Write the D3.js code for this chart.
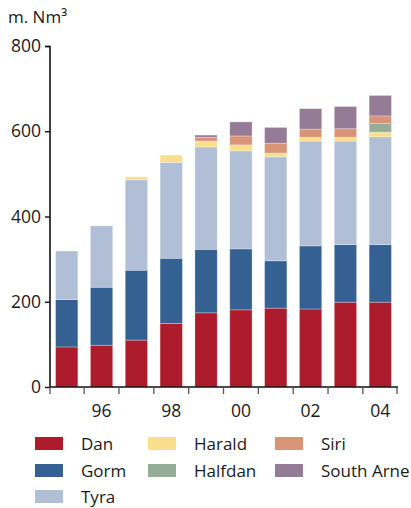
<!DOCTYPE html>
<html><head><meta charset="utf-8">
<script src="https://cdn.jsdelivr.net/npm/d3@7"></script>
<style>body{margin:0;background:#fff;}svg{display:block;}</style>
</head><body>
<svg id="c" width="411" height="508"></svg>
<script>
const years = ["95","96","97","98","99","00","01","02","03","04"];
const seriesNames = ["Dan","Gorm","Tyra","Harald","Halfdan","Siri","South Arne"];
const dan     = [94, 98, 110, 149, 174, 181, 185, 183, 199, 199];
const gorm    = [111, 136, 164, 153, 149, 143, 111, 148, 135, 135];
const tyra    = [114, 144, 212, 225, 240, 230, 244, 246, 243, 253];
const harald  = [0, 0, 7, 17, 14, 14, 9, 9, 9, 11];
const halfdan = [0, 0, 0, 0, 0, 0, 0, 0, 0, 20];
const siri    = [0, 0, 0, 0, 9, 21, 23, 19, 20, 18];
const southArne = [0, 0, 0, 0, 5, 33, 37, 48, 52, 48];
const colors = ["#ad1c2c","#356092","#b0bfd6","#f9de8c","#93ad97","#d99376","#947b96"];
const yTicks = [0, 200, 400, 600, 800];
const xTickLabels = ["96","98","00","02","04"];

const seriesValues = [dan, gorm, tyra, harald, halfdan, siri, southArne];
const rows = years.map((y, i) => {
  const r = {year: y};
  seriesNames.forEach((s, j) => r[s] = seriesValues[j][i]);
  return r;
});

const svg = d3.select("#c");
const font = "'Open Sans', sans-serif";
const x = d3.scaleBand().domain(years).range([50, 397]).paddingInner(0.36).paddingOuter(0.16);
const y = d3.scaleLinear().domain([0, 800]).range([387, 46]);
const stack = d3.stack().keys(seriesNames)(rows);

svg.append("g").selectAll("g").data(stack).join("g")
  .attr("fill", (d, i) => colors[i])
  .selectAll("rect").data(d => d.filter(p => p[1] - p[0] > 0)).join("rect")
  .attr("x", d => x(d.data.year))
  .attr("width", x.bandwidth())
  .attr("y", d => y(d[1]))
  .attr("height", d => y(d[0]) - y(d[1]))
  .attr("stroke", "#fff").attr("stroke-opacity", 0.35).attr("stroke-width", 0.8);

// y axis
const ya = svg.append("g").attr("transform", "translate(50,0)")
  .call(d3.axisLeft(y).tickValues(yTicks).tickSize(5).tickPadding(4));
ya.select(".domain").attr("stroke", "#111").attr("stroke-width", 1.6).attr("d", "M-5,46.5H0V387.5");
ya.selectAll(".tick line").attr("stroke", "#111").attr("stroke-width", 1.4);
ya.selectAll(".tick text").attr("font-family", font).attr("font-size", 17.5).attr("fill", "#1a1a1a");

// x axis
const xb = svg.append("g").attr("transform", "translate(0,387)");
xb.append("line").attr("x1", 50).attr("x2", 398).attr("stroke", "#111").attr("stroke-width", 1.6);
const bounds = years.map(d => x(d) - x.step() * x.paddingInner() / 2).concat([397]);
bounds[0] = 50;
xb.selectAll("line.t").data(bounds).join("line").attr("class", "t")
  .attr("x1", d => d).attr("x2", d => d).attr("y1", 0).attr("y2", 7)
  .attr("stroke", "#555").attr("stroke-width", 1.3);
xb.selectAll("text").data(xTickLabels).join("text")
  .attr("x", d => x(d) + x.bandwidth() / 2).attr("y", 30)
  .attr("text-anchor", "middle").attr("font-family", font).attr("font-size", 17.5).attr("fill", "#1a1a1a")
  .text(d => d);

// unit label
svg.append("text").attr("x", 8).attr("y", 23).attr("font-family", font).attr("font-size", 17)
  .attr("fill", "#1a1a1a").text("m. Nm³");

// legend
const legendPos = [[35,437],[35,464],[35,490],[148,437],[148,464],[275,437],[275,464]];
const lg = svg.append("g");
seriesNames.forEach((s, i) => {
  const [lx, ly] = legendPos[i];
  lg.append("rect").attr("x", lx).attr("y", ly).attr("width", 28).attr("height", 13).attr("fill", colors[i]);
  lg.append("text").attr("x", lx + 46).attr("y", ly + 12.5).attr("font-family", font).attr("font-size", 17)
    .attr("fill", "#1a1a1a").text(s);
});
</script>
</body></html>
